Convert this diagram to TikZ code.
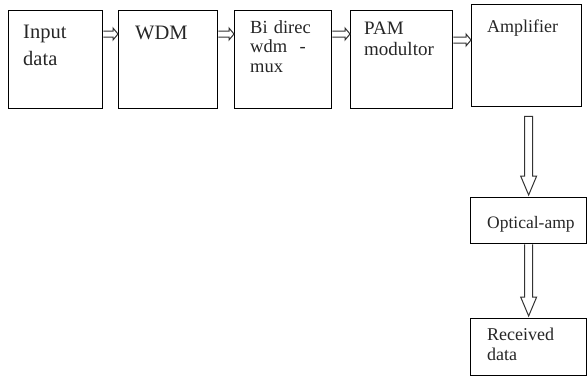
\documentclass[tikz,border=0pt]{standalone}
\usepackage{fontspec}
\setmainfont{Liberation Serif}
\usetikzlibrary{calc}
\tikzset{
  box/.style={draw=black, line width=1.3pt, rectangle, inner sep=0pt, anchor=north west},
  txt/.style={inner sep=0pt, anchor=base west, align=left, text width=95pt, text=black!85},
  blockarrow/.style={draw=black!80, line width=1pt, fill=white, line join=miter},
}
\newcommand\hblockarrow[3]{%
  \draw[blockarrow] let \p1=([yshift=-#3]#1.north east), \p2=(#2.west) in
    (\x1,\y1+3pt) -- (\x2-5pt,\y1+3pt) -- (\x2-5pt,\y1+6pt) -- (\x2,\y1)
    -- (\x2-5pt,\y1-6pt) -- (\x2-5pt,\y1-3pt) -- (\x1,\y1-3pt);}
\begin{document}
\begin{tikzpicture}[x=1pt,y=-1pt]
\useasboundingbox (0,0) rectangle (588,376);
% boxes
\node[box, minimum width=94pt, minimum height=98pt] (b1) at (8,10) {};
\node[box, minimum width=99pt, minimum height=98pt] (b2) at (118,10) {};
\node[box, minimum width=97pt, minimum height=98pt] (b3) at (234,10) {};
\node[box, minimum width=102pt, minimum height=98pt] (b4) at (350,10) {};
\node[box, minimum width=110pt, minimum height=102pt] (b5) at (471,4) {};
\node[box, minimum width=116pt, minimum height=46pt] (b6) at (470,197) {};
\node[box, minimum width=116pt, minimum height=57pt] (b7) at (470,318) {};
% texts
\node[txt, font=\fontsize{20.5}{27}\selectfont] (t1) at (23,38) {Input\\data};
\node[txt, font=\fontsize{20.5}{24}\selectfont] (t2) at (135,39) {WDM};
\node[txt, font=\fontsize{18.5}{19.5}\selectfont] (t3) at (250,33) {Bi direc\\wdm~ -\\mux};
\node[txt, font=\fontsize{19}{21}\selectfont] (t4) at (364,34) {PAM\\modultor};
\node[txt, font=\fontsize{18}{20}\selectfont] (t5) at (487,32) {Amplifier};
\node[txt, font=\fontsize{17.5}{20}\selectfont] (t6) at (487,228) {Optical-amp};
\node[txt, font=\fontsize{18}{20}\selectfont] (t7) at (487,340) {Received\\data};
% horizontal arrows
\hblockarrow{b1}{b2}{24pt}
\hblockarrow{b2}{b3}{24pt}
\hblockarrow{b3}{b4}{24pt}
\hblockarrow{b4}{b5}{30pt}
% vertical arrows
\draw[blockarrow] let \p1=(b5.south), \p2=(b6.north) in
  (\x2-4pt,\y1-9pt) -- (\x2-4pt,\y2+21pt) -- (\x2-8pt,\y2+21pt) -- (\x2,\y2+2pt)
  -- (\x2+8pt,\y2+21pt) -- (\x2+4pt,\y2+21pt) -- (\x2+4pt,\y1-9pt) -- cycle;
\draw[blockarrow] let \p1=(b6.south), \p2=(b7.north) in
  (\x2-4pt,\y1) -- (\x2-4pt,\y2+21pt) -- (\x2-8pt,\y2+21pt) -- (\x2,\y2+2pt)
  -- (\x2+8pt,\y2+21pt) -- (\x2+4pt,\y2+21pt) -- (\x2+4pt,\y1);
\end{tikzpicture}
\end{document}
